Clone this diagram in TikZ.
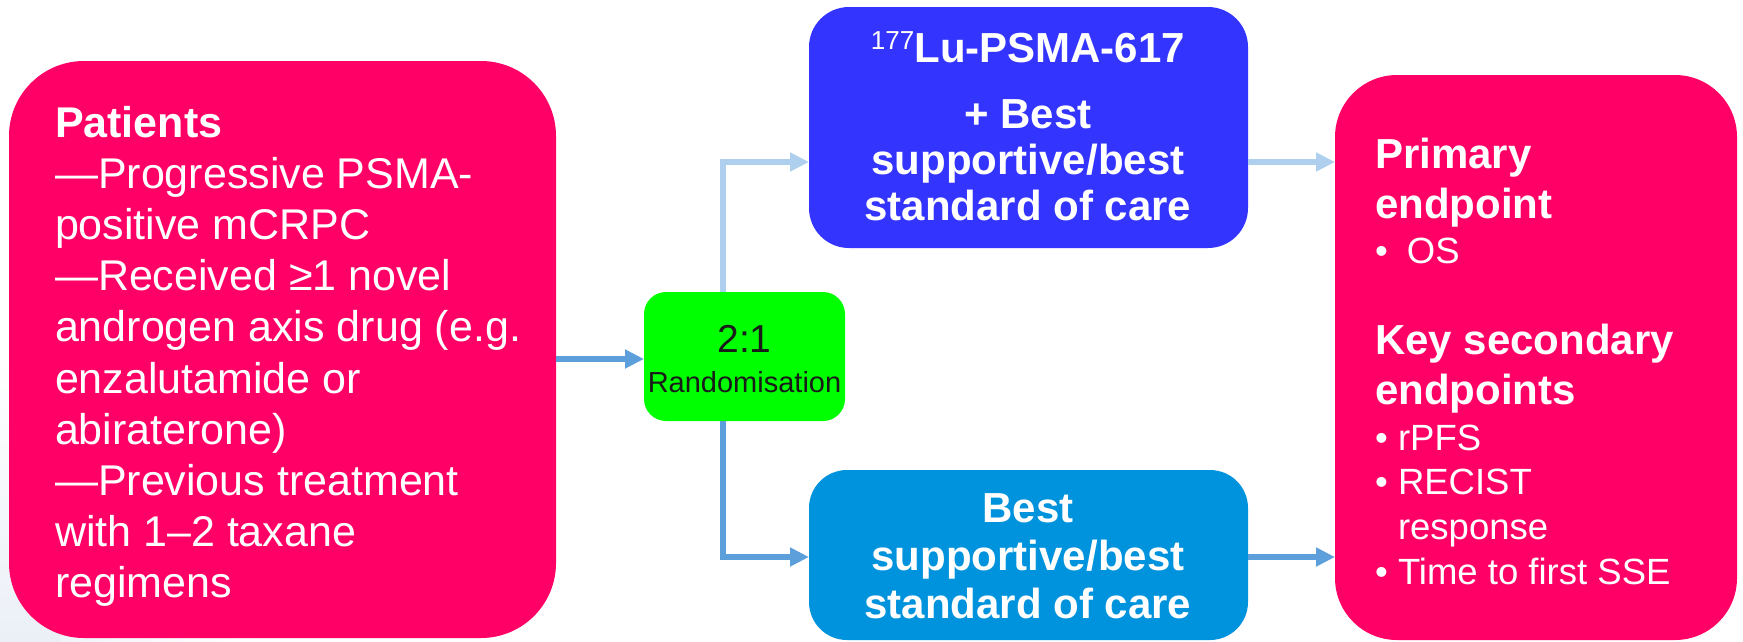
\documentclass[tikz,border=0pt]{standalone}
\usepackage{fontspec}
\setmainfont{Liberation Sans}
\usetikzlibrary{arrows.meta}
\definecolor{pinkbox}{HTML}{FF0066}
\definecolor{lublue}{HTML}{3434FF}
\definecolor{bscblue}{HTML}{0093DD}
\definecolor{randgreen}{HTML}{00FF00}
\definecolor{darktext}{HTML}{1A1A1A}
\definecolor{arrlight}{HTML}{AED0EE}
\definecolor{arrdark}{HTML}{5D9FDB}
\definecolor{bgtint}{HTML}{EBF0F7}
\tikzset{
  boxshape/.style={draw=none, inner sep=0pt, outer sep=0pt},
  txt/.style={inner sep=0pt, outer sep=0pt, text=white},
  conn/.style={line width=5.5pt, -{Triangle[length=19pt,width=18pt]}},
  connlight/.style={conn, draw=arrlight},
  conndark/.style={conn, draw=arrdark},
}
\begin{document}
\begin{tikzpicture}[x=1pt,y=-1pt]
\useasboundingbox (0,0) rectangle (1743,641);
\fill[white] (0,0) rectangle (1743,641);
\shade[inner color=bgtint, outer color=white] (0,641) circle (260pt);
\fill[white] (0,0) rectangle (1743,360);
\shade[top color=white, bottom color=bgtint] (0,360) rectangle (60,641);
% boxes
\node[boxshape, fill=pinkbox, rounded corners=75pt, minimum width=547pt, minimum height=577pt] (pat) at (282.5,349.5) {};
\node[boxshape, fill=lublue, rounded corners=40pt, minimum width=439pt, minimum height=241pt] (lu) at (1028.5,127.5) {};
\node[boxshape, fill=bscblue, rounded corners=38pt, minimum width=439pt, minimum height=170pt] (bsc) at (1028.5,555) {};
\node[boxshape, fill=randgreen, rounded corners=22pt, minimum width=201pt, minimum height=129pt] (rand) at (744.5,356.5) {};
\node[boxshape, fill=pinkbox, rounded corners=62pt, minimum width=402pt, minimum height=565pt] (endp) at (1536,357.5) {};
% connector coordinates
\coordinate (c1) at (723,162);
\coordinate (c2) at (723,557);
\coordinate (c0) at (0,359);
\draw[conndark] (pat.east |- c0) -- (rand.west |- c0);
\draw[connlight] (rand.north -| c1) |- (lu.west |- c1);
\draw[conndark] (rand.south -| c2) |- (bsc.west |- c2);
\draw[connlight] (lu.east |- c1) -- (endp.west |- c1);
\draw[conndark] (bsc.east |- c2) -- (endp.west |- c2);
% texts
\node[txt, anchor=base west] (pattxt) at (55,137) {\parbox[t]{495pt}{\fontsize{43}{51.2}\selectfont\raggedright
\textbf{Patients}\\—Progressive PSMA-\\positive mCRPC\\—Received ≥1 novel\\androgen axis drug (e.g.\\enzalutamide or\\abiraterone)\\—Previous treatment\\with 1–2 taxane\\regimens}};
\node[txt, anchor=base] (lutitle) at (1028,62) {\fontsize{42}{42}\selectfont\bfseries\raisebox{13pt}{\fontsize{26}{26}\selectfont\mdseries 177}Lu-PSMA-617};
\node[txt, anchor=base] (lubody) at (1028,128) {\parbox[t]{430pt}{\centering\fontsize{42}{46}\selectfont\bfseries + Best\\supportive/best\\standard of care}};
\node[txt, anchor=base] (bsctxt) at (1028,522) {\parbox[t]{430pt}{\centering\fontsize{42}{48}\selectfont\bfseries Best\\supportive/best\\standard of care}};
\node[txt, text=darktext, anchor=base] (ratio) at (744.5,352) {\fontsize{39}{39}\selectfont 2:1};
\node[txt, text=darktext, anchor=base] (randtxt) at (744.5,392.5) {\fontsize{29}{29}\selectfont Randomisation};
\node[txt, anchor=base west] (prim) at (1375,168) {\parbox[t]{360pt}{\fontsize{42}{50}\selectfont\bfseries Primary\\endpoint}};
\node[txt, anchor=base west] (os) at (1375,263) {\fontsize{36.5}{36.5}\selectfont\makebox[32pt][l]{•}OS};
\node[txt, anchor=base west] (keysec) at (1375,354) {\parbox[t]{360pt}{\fontsize{42}{50}\selectfont\bfseries Key secondary\\endpoints}};
\node[txt, anchor=base west] (seclist) at (1375,450) {\parbox[t]{360pt}{\fontsize{36.5}{44.7}\selectfont\raggedright
\makebox[23pt][l]{•}rPFS\\\makebox[23pt][l]{•}RECIST\\\hspace*{23pt}response\\\makebox[23pt][l]{•}Time to first SSE}};
\end{tikzpicture}
\end{document}
